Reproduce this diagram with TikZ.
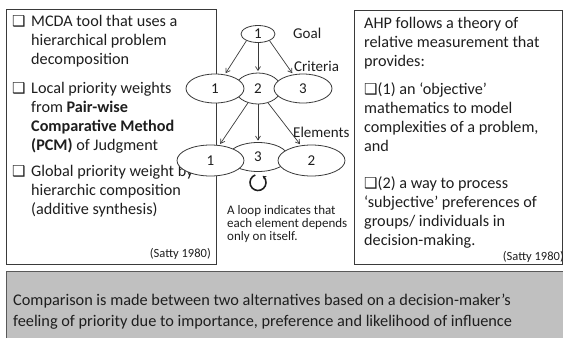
\documentclass[tikz,border=0pt]{standalone}
\usepackage{fontspec}
\setmainfont{Carlito}
\newfontfamily\symfont{DejaVu Sans}
\usetikzlibrary{shapes.geometric,arrows.meta}
\definecolor{txt}{HTML}{1E1E1E}
\definecolor{greyfill}{HTML}{C0C0C0}
\definecolor{boxline}{HTML}{3A3A3A}
\newcommand{\bsq}{{\symfont\fontsize{15}{15}\selectfont ❑}}
\newcommand{\stacklines}[1]{\vtop{\halign{##\hfil\cr#1\crcr}}}
\begin{document}
\begin{tikzpicture}[x=1pt,y=-1pt,
  boxframe/.style={draw=boxline, line width=0.9pt},
  bodytext/.style={font=\fontsize{16.2}{19}\selectfont, text=txt, inner sep=0pt, anchor=base west},
  bullet/.style={text=txt, inner sep=0pt, anchor=base west},
  cite/.style={font=\fontsize{12.5}{14}\selectfont, text=txt, inner sep=0pt, anchor=base east},
  lvl/.style={font=\fontsize{15}{17}\selectfont, text=txt, inner sep=0pt, anchor=west},
  ell/.style={ellipse, draw=boxline, line width=0.8pt, fill=white, inner sep=0pt, font=\fontsize{15}{17}\selectfont, text=txt},
  arr/.style={draw=boxline, line width=0.7pt, -{Straight Barb[length=4pt,width=5pt]}, shorten >=1.5pt}
]
\useasboundingbox (0,0) rectangle (563,338);
% boxes
\draw[boxframe] (6,9.5) rectangle (216,264);
\draw[boxframe] (354,10) rectangle (562,264);
\fill[greyfill] (6,271) rectangle (563,338);
\draw[draw=gray!70!black, line width=0.8pt] (6,338) -- (6,271) -- (563,271);
% left box text
\node[bullet] (b1) at (12,26.5) {\bsq};
\node[bodytext] (t1) at (31,26.5) {\stacklines{MCDA tool that uses a\cr hierarchical problem\cr decomposition}};
\node[bullet] (b2) at (12,93) {\bsq};
\node[bodytext] (t2) at (31,93) {\stacklines{Local priority weights\cr from \textbf{Pair-wise}\cr \textbf{Comparative Method}\cr \textbf{(PCM)} of Judgment}};
\node[bullet] (b3) at (12,176.5) {\bsq};
\node[bodytext] (t3) at (31,176.5) {\stacklines{Global priority weight by\cr hierarchic composition\cr (additive synthesis)}};
\node[cite] (s1) at (211,257) {(Satty 1980)};
% right box text
\node[bodytext] (r1) at (364,28.5) {\stacklines{AHP follows a theory of\cr relative measurement that\cr provides:}};
\node[bodytext] (r2) at (364,94) {\stacklines{\bsq(1) an ‘objective’\cr mathematics to model\cr complexities of a problem,\cr and}};
\node[bodytext] (r3) at (364,188) {\stacklines{\bsq(2) a way to process\cr ‘subjective’ preferences of\cr groups/ individuals in\cr decision-making.}};
\node[cite] (s2) at (564,260) {(Satty 1980)};
% bottom text
\node[font=\fontsize{16.3}{21}\selectfont, text=txt, inner sep=0pt, anchor=base west] (g1) at (13,305)
  {\stacklines{Comparison is made between two alternatives based on a decision-maker’s\cr feeling of priority due to importance, preference and likelihood of influence}};
% hierarchy
\node[ell, minimum width=34pt, minimum height=17pt] (goal) at (258,34) {1};
\node[ell, minimum width=46pt, minimum height=31pt] (c2) at (258,88.5) {\raisebox{-3pt}{2}};
\node[ell, minimum width=58pt, minimum height=29pt] (c1) at (215,88.5) {1};
\node[ell, minimum width=58pt, minimum height=29pt] (c3) at (303,88.5) {3};
\node[ell, minimum width=60pt, minimum height=29pt] (e3) at (258,157) {\raisebox{-3pt}{3}};
\node[ell, minimum width=67pt, minimum height=31pt] (e1) at (210.5,160.5) {1};
\node[ell, minimum width=67pt, minimum height=31pt] (e2) at (311.5,160.5) {2};
\draw[arr] (goal.210) -- (c1.55);
\draw[arr] (goal.south) -- (c2.north);
\draw[arr] (goal.330) -- (c3.125);
\draw[arr] (c2.235) -- (e1.60);
\draw[arr] (c2.south) -- (e3.north);
\draw[arr] (c2.305) -- (e2.125);
\node[lvl] (lg) at (293,33) {Goal};
\node[lvl] (lc) at (294,66) {Criteria};
\node[lvl] (le) at (293,132) {Elements};
\coordinate (loopc) at (258,182.5);
\draw[draw=txt, line width=1.6pt, -{Stealth[length=3.5pt,width=4.5pt]}] ([shift={(110:8pt)}]loopc) arc[start angle=110, end angle=415, radius=8pt];
\node[font=\fontsize{13}{13.3}\selectfont, text=txt, inner sep=0pt, anchor=base west] (lt) at (227,214)
  {\stacklines{A loop indicates that\cr each element depends\cr only on itself.}};
\end{tikzpicture}
\end{document}
